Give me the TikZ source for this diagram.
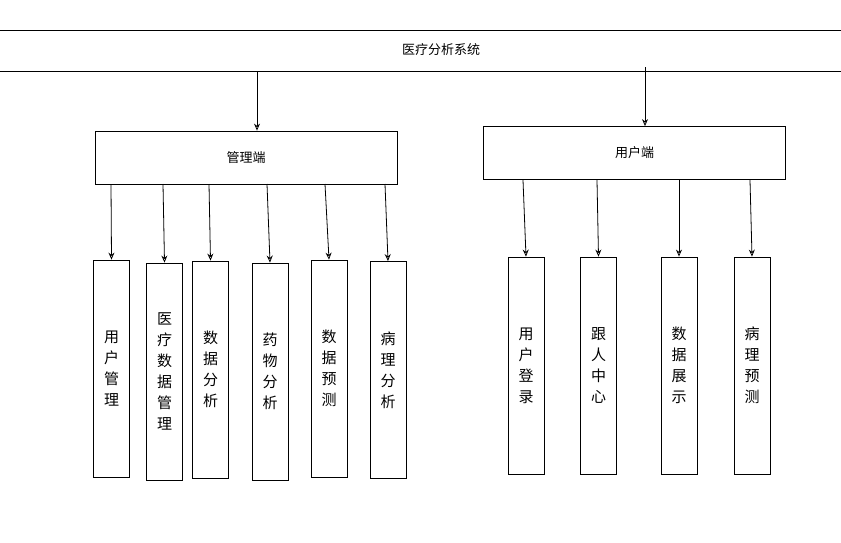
\documentclass[tikz,border=0pt]{standalone}
\usepackage{fontspec}
\setmainfont{Noto Sans CJK SC}
\usetikzlibrary{arrows.meta}
\tikzset{
  box/.style={draw, thick, minimum width=302pt, minimum height=53pt, font=\fontsize{13}{15}\selectfont},
  leaf/.style={draw, thick, minimum width=36pt, minimum height=217pt, align=center, font=\fontsize{15}{21}\selectfont},
  link/.style={-{Stealth[length=7pt,width=6pt,open]}, thick}
}
\begin{document}
\begin{tikzpicture}[x=1pt, y=-1pt]
  \useasboundingbox (0,0) rectangle (841,542);
  % top bar
  \draw[thick] (0,30) -- (841,30) (0,71) -- (841,71);
  \node[font=\fontsize{13}{15}\selectfont] (sys) at (441,50) {医疗分析系统};
  \coordinate (sysl) at (257,71);
  \coordinate (sysr) at (645,67);

  \node[box] (admin) at (246,157.5) {管理端};
  \node[box] (user) at (634.5,153) {用户端};
  \draw[link] (sysl) -- (admin.north -| sysl);
  \draw[link] (sysr) -- (user.north -| sysr);

  % admin leaves
  \node[leaf] (a1) at (111.5,368.5) {用\\户\\管\\理};
  \node[leaf] (a2) at (164.5,371.5) {医\\疗\\数\\据\\管\\理};
  \node[leaf] (a3) at (210.5,369.5) {数\\据\\分\\析};
  \node[leaf] (a4) at (270,371.5) {药\\物\\分\\析};
  \node[leaf] (a5) at (329,368.5) {数\\据\\预\\测};
  \node[leaf] (a6) at (388,370) {病\\理\\分\\析};
  \foreach \n/\x in {a1/111, a2/163, a3/209, a4/267, a5/325, a6/385}
    \draw[link] (\x,184) -- (\n.north);

  % user leaves
  \node[leaf] (u1) at (526,365.5) {用\\户\\登\\录};
  \node[leaf] (u2) at (598.5,365.5) {跟\\人\\中\\心};
  \node[leaf] (u3) at (679,365.5) {数\\据\\展\\示};
  \node[leaf] (u4) at (752,365.5) {病\\理\\预\\测};
  \foreach \n/\x in {u1/523, u2/597, u3/679, u4/750}
    \draw[link] (\x,180) -- (\n.north);
\end{tikzpicture}
\end{document}
